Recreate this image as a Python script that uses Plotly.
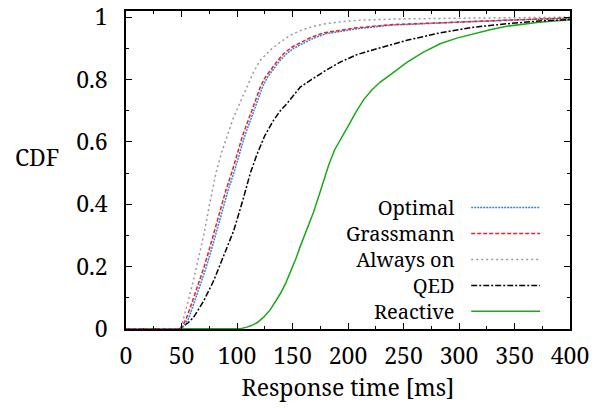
import plotly.graph_objects as go

# ---- data ----
always_x = [0, 48, 50, 52, 56, 60, 65, 70, 75, 81, 86, 91, 96, 102, 109, 115, 121, 130, 139, 148, 157, 167, 178, 192, 208, 240, 300, 350, 400]
always_y = [0, 0, 0.01, 0.035, 0.09, 0.145, 0.22, 0.30, 0.395, 0.50, 0.565, 0.62, 0.67, 0.72, 0.776, 0.825, 0.862, 0.895, 0.92, 0.942, 0.957, 0.969, 0.978, 0.985, 0.99, 0.994, 0.997, 0.998, 1.0]

grass_x = [0, 48, 50, 54, 58, 62, 66, 70, 75, 80, 85, 90, 96, 100, 105, 110, 116, 121, 125, 130, 136, 142, 149, 157, 167, 178, 192, 208, 238, 283, 340, 400]
grass_y = [0, 0, 0.005, 0.03, 0.07, 0.11, 0.15, 0.195, 0.255, 0.32, 0.385, 0.445, 0.51, 0.56, 0.62, 0.668, 0.73, 0.776, 0.805, 0.83, 0.858, 0.883, 0.903, 0.918, 0.936, 0.95, 0.958, 0.966, 0.976, 0.983, 0.99, 0.998]

opt_x = [0, 48, 51, 56, 60, 64, 68, 72, 77, 82, 87, 92, 98, 102, 107, 112, 118, 123, 127, 132, 138, 144, 151, 159, 169, 180, 194, 210, 240, 285, 340, 400]
opt_y = [0, 0, 0.005, 0.03, 0.07, 0.11, 0.15, 0.195, 0.255, 0.32, 0.385, 0.445, 0.51, 0.56, 0.62, 0.668, 0.73, 0.776, 0.805, 0.83, 0.858, 0.881, 0.9, 0.915, 0.933, 0.947, 0.956, 0.964, 0.975, 0.982, 0.99, 0.997]

qed_x = [0, 48, 52, 56, 61, 70, 79, 88, 97, 105, 112, 118, 125, 133, 139, 145, 151, 157, 167, 178, 193, 208, 223, 253, 283, 313, 343, 372, 400]
qed_y = [0, 0, 0.01, 0.02, 0.038, 0.09, 0.155, 0.235, 0.315, 0.41, 0.50, 0.56, 0.62, 0.67, 0.70, 0.723, 0.75, 0.776, 0.80, 0.825, 0.856, 0.88, 0.896, 0.926, 0.95, 0.968, 0.979, 0.988, 0.993]

react_x = [0, 99, 104, 109, 113, 118, 124, 130, 135, 139, 144, 148, 153, 157, 163, 169, 174, 178, 183, 188, 194, 200, 207, 214, 221, 229, 238, 245, 253, 268, 283, 298, 313, 328, 343, 358, 372, 386, 400]
react_y = [0, 0, 0.002, 0.006, 0.011, 0.02, 0.038, 0.062, 0.09, 0.113, 0.148, 0.18, 0.225, 0.265, 0.32, 0.375, 0.43, 0.475, 0.53, 0.575, 0.615, 0.65, 0.695, 0.735, 0.765, 0.792, 0.815, 0.835, 0.855, 0.888, 0.915, 0.933, 0.947, 0.96, 0.971, 0.978, 0.984, 0.988, 0.992]

names = ["Optimal", "Grassmann", "Always on", "QED", "Reactive"]
colors = ["#2f86d8", "#e8202a", "#999999", "#000000", "#19a919"]
dashes = ["2px,1px", "4px,2px", "2px,3px", "6px,2px,2px,2px", "solid"]
xs = [opt_x, grass_x, always_x, qed_x, react_x]
ys = [opt_y, grass_y, always_y, qed_y, react_y]

FONT = "Noto Serif"
FS = 23
LEG_FS = 20

fig = go.Figure()
# draw order: reactive, qed, always, optimal, grassmann on top
for i in [4, 3, 2, 0, 1]:
    fig.add_trace(go.Scatter(x=xs[i], y=ys[i], mode="lines", name=names[i],
                             line=dict(color=colors[i], width=1.5, dash=dashes[i]),
                             showlegend=False))

# manual gnuplot-style legend (text block right-aligned, samples on the right)
leg_text_x = 298
leg_x0, leg_x1 = 311, 373
leg_center = 0.223
leg_step = 0.0832
fig.add_annotation(x=leg_text_x, y=leg_center, xref="x", yref="y",
                   text="<br>".join(names), showarrow=False, align="right",
                   xanchor="right", yanchor="middle",
                   font=dict(family=FONT, size=LEG_FS, color="black"))
for k, nm in enumerate(names):
    yy = leg_center + (2 - k) * leg_step
    fig.add_shape(type="line", x0=leg_x0, x1=leg_x1, y0=yy, y1=yy, xref="x", yref="y",
                  line=dict(color=colors[k], width=1.5, dash=dashes[k]))

fig.add_annotation(x=-0.2, y=0.54, xref="paper", yref="paper", text="CDF", showarrow=False,
                   xanchor="center", yanchor="middle",
                   font=dict(family=FONT, size=FS, color="black"))

axis_common = dict(showline=True, linecolor="black", linewidth=1.5, mirror="ticks",
                   ticks="inside", ticklen=6, tickwidth=1, tickcolor="black",
                   showgrid=False, zeroline=False, automargin=False,
                   tickfont=dict(family=FONT, size=FS, color="black"))

fig.update_xaxes(range=[0, 400], dtick=50, tick0=0,
                 minor=dict(ticks="inside", ticklen=3, dtick=25, tickcolor="black"),
                 title=dict(text="Response time [ms]", font=dict(family=FONT, size=FS, color="black"), standoff=8),
                 ticklabelstandoff=6,
                 **axis_common)
fig.update_yaxes(range=[0, 1.02], dtick=0.2, tick0=0,
                 minor=dict(ticks="inside", ticklen=3, dtick=0.1, tickcolor="black"),
                 ticklabelstandoff=12,
                 **axis_common)

fig.update_layout(width=594, height=408, margin=dict(l=126, r=24, t=11, b=79, autoexpand=False),
                  plot_bgcolor="white", paper_bgcolor="white",
                  font=dict(family=FONT, size=FS, color="black"))

fig.write_html("out.html")
